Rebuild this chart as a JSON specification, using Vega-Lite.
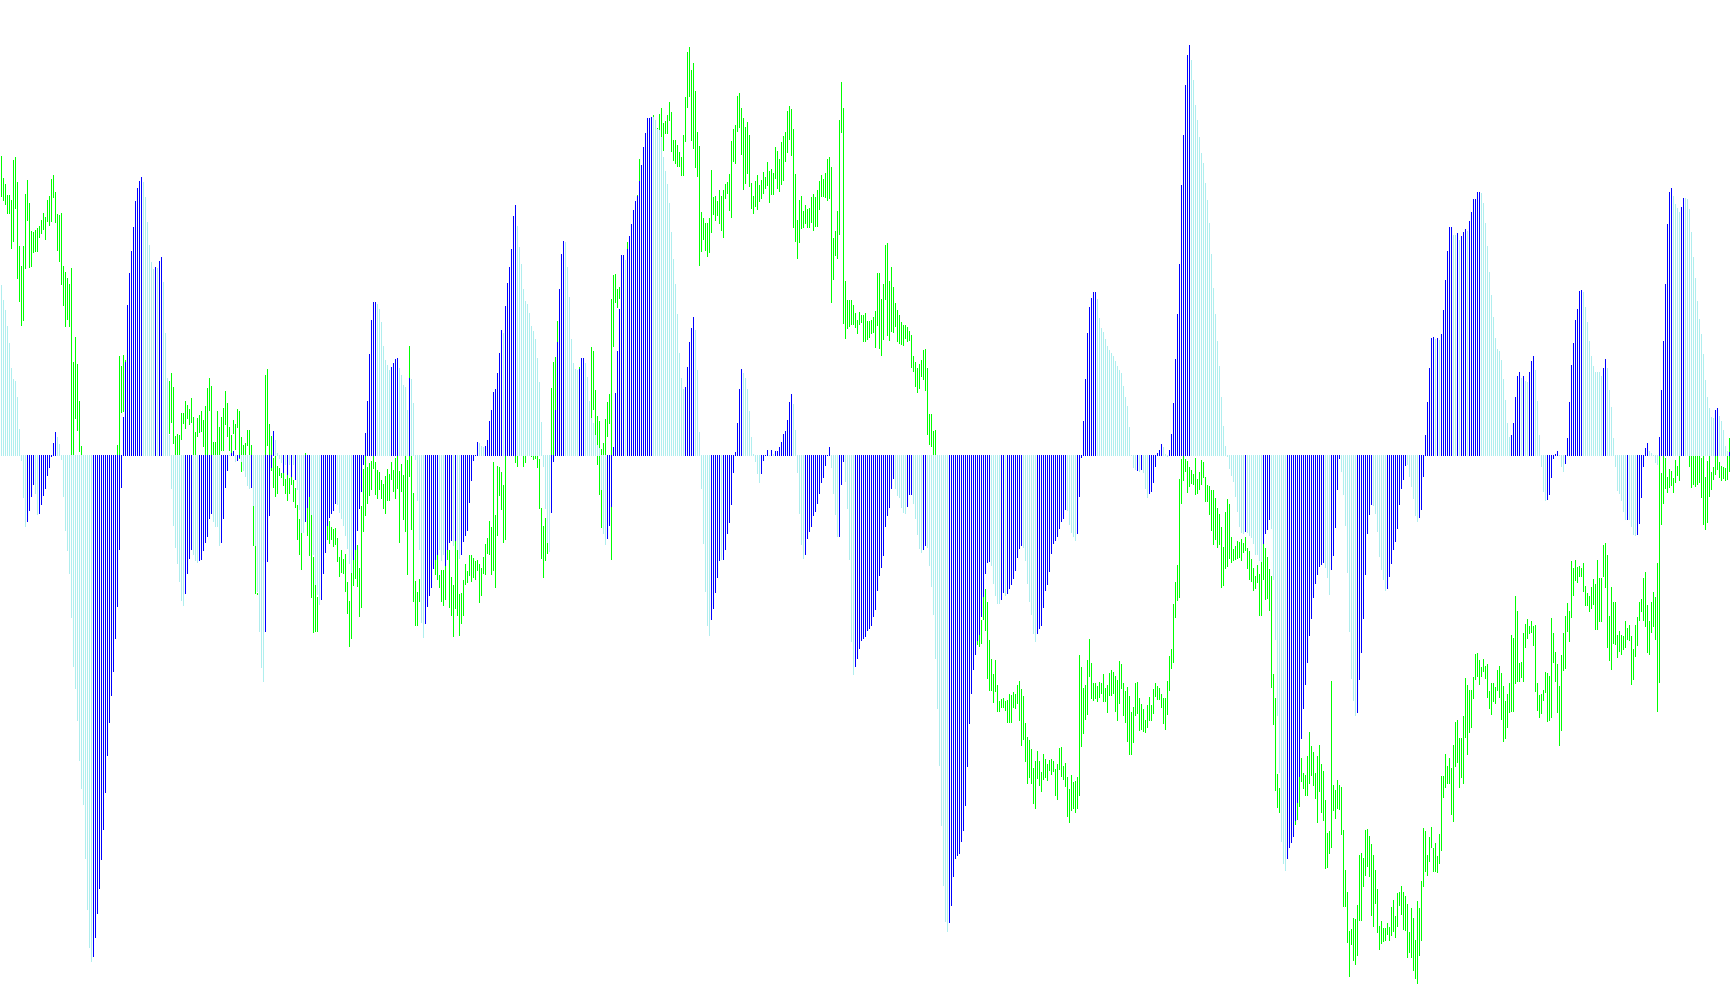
{"$schema":"https://vega.github.io/schema/vega-lite/v6.json","width":1730,"height":1005,"autosize":{"type":"fit","contains":"padding"},"padding":0,"background":"#ffffff","config":{"view":{"stroke":null}},
"datasets":{"hist":[
{"i":0,"h":170,"c":"p"},{"i":1,"h":155,"c":"p"},{"i":2,"h":145,"c":"p"},{"i":3,"h":129,"c":"p"},{"i":4,"h":112,"c":"p"},{"i":5,"h":87,"c":"p"},{"i":6,"h":76,"c":"p"},{"i":7,"h":74,"c":"p"},{"i":8,"h":58,"c":"p"},{"i":9,"h":26,"c":"p"},{"i":10,"h":-6,"c":"p"},{"i":11,"h":-43,"c":"p"},{"i":12,"h":-72,"c":"p"},{"i":13,"h":-67,"c":"b"},{"i":14,"h":-56,"c":"b"},{"i":15,"h":-42,"c":"b"},{"i":16,"h":-30,"c":"b"},{"i":17,"h":-39,"c":"p"},{"i":18,"h":-60,"c":"p"},{"i":19,"h":-59,"c":"b"},{"i":20,"h":-50,"c":"b"},{"i":21,"h":-41,"c":"b"},{"i":22,"h":-34,"c":"b"},{"i":23,"h":-21,"c":"b"},{"i":24,"h":-13,"c":"b"},{"i":25,"h":-2,"c":"b"},{"i":26,"h":12,"c":"b"},{"i":27,"h":23,"c":"b"},{"i":28,"h":18,"c":"p"},{"i":29,"h":11,"c":"p"},{"i":30,"h":-5,"c":"p"},{"i":31,"h":-42,"c":"p"},{"i":32,"h":-76,"c":"p"},{"i":33,"h":-96,"c":"p"},{"i":34,"h":-119,"c":"p"},{"i":35,"h":-163,"c":"p"},{"i":36,"h":-212,"c":"p"},{"i":37,"h":-234,"c":"p"},{"i":38,"h":-266,"c":"p"},{"i":39,"h":-306,"c":"p"},{"i":40,"h":-334,"c":"p"},{"i":41,"h":-350,"c":"p"},{"i":42,"h":-404,"c":"p"},{"i":43,"h":-455,"c":"p"},{"i":44,"h":-493,"c":"p"},{"i":45,"h":-507,"c":"p"},{"i":46,"h":-502,"c":"b"},{"i":47,"h":-483,"c":"b"},{"i":48,"h":-459,"c":"b"},{"i":49,"h":-434,"c":"b"},{"i":50,"h":-405,"c":"b"},{"i":51,"h":-375,"c":"b"},{"i":52,"h":-338,"c":"b"},{"i":53,"h":-301,"c":"b"},{"i":54,"h":-268,"c":"b"},{"i":55,"h":-241,"c":"b"},{"i":56,"h":-217,"c":"b"},{"i":57,"h":-184,"c":"b"},{"i":58,"h":-152,"c":"b"},{"i":59,"h":-95,"c":"b"},{"i":60,"h":-33,"c":"b"},{"i":61,"h":38,"c":"b"},{"i":62,"h":93,"c":"b"},{"i":63,"h":150,"c":"b"},{"i":64,"h":182,"c":"b"},{"i":65,"h":204,"c":"b"},{"i":66,"h":228,"c":"b"},{"i":67,"h":254,"c":"b"},{"i":68,"h":267,"c":"b"},{"i":69,"h":274,"c":"b"},{"i":70,"h":278,"c":"b"},{"i":71,"h":273,"c":"p"},{"i":72,"h":258,"c":"p"},{"i":73,"h":233,"c":"p"},{"i":74,"h":210,"c":"p"},{"i":75,"h":193,"c":"p"},{"i":76,"h":186,"c":"p"},{"i":77,"h":188,"c":"b"},{"i":78,"h":187,"c":"p"},{"i":79,"h":194,"c":"b"},{"i":80,"h":198,"c":"b"},{"i":81,"h":173,"c":"p"},{"i":82,"h":122,"c":"p"},{"i":83,"h":77,"c":"p"},{"i":84,"h":20,"c":"p"},{"i":85,"h":-34,"c":"p"},{"i":86,"h":-71,"c":"p"},{"i":87,"h":-93,"c":"p"},{"i":88,"h":-109,"c":"p"},{"i":89,"h":-127,"c":"p"},{"i":90,"h":-146,"c":"p"},{"i":91,"h":-151,"c":"p"},{"i":92,"h":-139,"c":"b"},{"i":93,"h":-119,"c":"b"},{"i":94,"h":-104,"c":"b"},{"i":95,"h":-95,"c":"b"},{"i":96,"h":-100,"c":"p"},{"i":97,"h":-106,"c":"p"},{"i":98,"h":-108,"c":"p"},{"i":99,"h":-106,"c":"b"},{"i":100,"h":-105,"c":"b"},{"i":101,"h":-96,"c":"b"},{"i":102,"h":-88,"c":"b"},{"i":103,"h":-82,"c":"b"},{"i":104,"h":-64,"c":"b"},{"i":105,"h":-59,"c":"b"},{"i":106,"h":-67,"c":"p"},{"i":107,"h":-72,"c":"p"},{"i":108,"h":-72,"c":"p"},{"i":109,"h":-91,"c":"p"},{"i":110,"h":-88,"c":"b"},{"i":111,"h":-64,"c":"b"},{"i":112,"h":-33,"c":"b"},{"i":113,"h":-16,"c":"b"},{"i":114,"h":-1,"c":"p"},{"i":115,"h":2,"c":"b"},{"i":116,"h":4,"c":"b"},{"i":117,"h":-7,"c":"p"},{"i":118,"h":-6,"c":"b"},{"i":119,"h":-3,"c":"b"},{"i":120,"h":-7,"c":"p"},{"i":121,"h":-16,"c":"p"},{"i":122,"h":-22,"c":"p"},{"i":123,"h":-31,"c":"p"},{"i":124,"h":-34,"c":"p"},{"i":125,"h":-33,"c":"b"},{"i":126,"h":-51,"c":"p"},{"i":127,"h":-91,"c":"p"},{"i":128,"h":-137,"c":"p"},{"i":129,"h":-177,"c":"p"},{"i":130,"h":-213,"c":"p"},{"i":131,"h":-227,"c":"p"},{"i":132,"h":-177,"c":"b"},{"i":133,"h":-107,"c":"b"},{"i":134,"h":-61,"c":"b"},{"i":135,"h":-13,"c":"b"},{"i":136,"h":24,"c":"b"},{"i":137,"h":15,"c":"p"},{"i":138,"h":2,"c":"p"},{"i":139,"h":-4,"c":"p"},{"i":140,"h":-8,"c":"p"},{"i":141,"h":-18,"c":"b"},{"i":142,"h":-10,"c":"p"},{"i":143,"h":-20,"c":"b"},{"i":144,"h":-10,"c":"p"},{"i":145,"h":-22,"c":"b"},{"i":146,"h":-10,"c":"p"},{"i":147,"h":-25,"c":"b"},{"i":148,"h":-35,"c":"p"},{"i":149,"h":-55,"c":"p"},
{"i":150,"h":-78,"c":"p"},{"i":151,"h":-78,"c":"p"},{"i":152,"h":-67,"c":"b"},{"i":153,"h":-53,"c":"b"},{"i":154,"h":-42,"c":"b"},{"i":155,"h":-60,"c":"p"},{"i":156,"h":-100,"c":"p"},{"i":157,"h":-130,"c":"p"},{"i":158,"h":-140,"c":"p"},{"i":159,"h":-150,"c":"p"},{"i":160,"h":-145,"c":"b"},{"i":161,"h":-119,"c":"b"},{"i":162,"h":-98,"c":"b"},{"i":163,"h":-71,"c":"b"},{"i":164,"h":-63,"c":"b"},{"i":165,"h":-59,"c":"b"},{"i":166,"h":-56,"c":"b"},{"i":167,"h":-49,"c":"b"},{"i":168,"h":-50,"c":"p"},{"i":169,"h":-58,"c":"p"},{"i":170,"h":-64,"c":"p"},{"i":171,"h":-71,"c":"p"},{"i":172,"h":-81,"c":"p"},{"i":173,"h":-94,"c":"p"},{"i":174,"h":-109,"c":"p"},{"i":175,"h":-118,"c":"p"},{"i":176,"h":-105,"c":"b"},{"i":177,"h":-95,"c":"b"},{"i":178,"h":-76,"c":"b"},{"i":179,"h":-54,"c":"b"},{"i":180,"h":-37,"c":"b"},{"i":181,"h":-10,"c":"b"},{"i":182,"h":22,"c":"b"},{"i":183,"h":54,"c":"b"},{"i":184,"h":101,"c":"b"},{"i":185,"h":135,"c":"b"},{"i":186,"h":153,"c":"b"},{"i":187,"h":153,"c":"b"},{"i":188,"h":151,"c":"p"},{"i":189,"h":146,"c":"p"},{"i":190,"h":133,"c":"p"},{"i":191,"h":109,"c":"p"},{"i":192,"h":95,"c":"p"},{"i":193,"h":90,"c":"p"},{"i":194,"h":85,"c":"p"},{"i":195,"h":88,"c":"b"},{"i":196,"h":92,"c":"b"},{"i":197,"h":96,"c":"b"},{"i":198,"h":97,"c":"b"},{"i":199,"h":87,"c":"p"},{"i":200,"h":80,"c":"p"},{"i":201,"h":70,"c":"p"},{"i":202,"h":68,"c":"p"},{"i":203,"h":45,"c":"p"},{"i":204,"h":77,"c":"b"},{"i":205,"h":76,"c":"p"},{"i":206,"h":52,"c":"p"},{"i":207,"h":-5,"c":"p"},{"i":208,"h":-46,"c":"p"},{"i":209,"h":-95,"c":"p"},{"i":210,"h":-168,"c":"p"},{"i":211,"h":-183,"c":"p"},{"i":212,"h":-169,"c":"b"},{"i":213,"h":-152,"c":"b"},{"i":214,"h":-141,"c":"b"},{"i":215,"h":-133,"c":"b"},{"i":216,"h":-114,"c":"b"},{"i":217,"h":-105,"c":"b"},{"i":218,"h":-100,"c":"b"},{"i":219,"h":-95,"c":"p"},{"i":220,"h":-106,"c":"p"},{"i":221,"h":-100,"c":"p"},{"i":222,"h":-111,"c":"b"},{"i":223,"h":-95,"c":"b"},{"i":224,"h":-88,"c":"b"},{"i":225,"h":-86,"c":"b"},{"i":226,"h":-91,"c":"p"},{"i":227,"h":-86,"c":"b"},{"i":228,"h":-95,"c":"p"},{"i":229,"h":-104,"c":"p"},{"i":230,"h":-100,"c":"b"},{"i":231,"h":-87,"c":"b"},{"i":232,"h":-81,"c":"b"},{"i":233,"h":-76,"c":"b"},{"i":234,"h":-48,"c":"b"},{"i":235,"h":-26,"c":"b"},{"i":236,"h":-6,"c":"b"},{"i":237,"h":-1,"c":"b"},{"i":238,"h":13,"c":"b"},{"i":239,"h":12,"c":"p"},{"i":240,"h":9,"c":"p"},{"i":241,"h":8,"c":"p"},{"i":242,"h":9,"c":"b"},{"i":243,"h":15,"c":"b"},{"i":244,"h":34,"c":"b"},{"i":245,"h":45,"c":"b"},{"i":246,"h":63,"c":"b"},{"i":247,"h":66,"c":"b"},{"i":248,"h":82,"c":"b"},{"i":249,"h":102,"c":"b"},{"i":250,"h":125,"c":"b"},{"i":251,"h":122,"c":"p"},{"i":252,"h":149,"c":"b"},{"i":253,"h":172,"c":"b"},{"i":254,"h":188,"c":"b"},{"i":255,"h":206,"c":"b"},{"i":256,"h":239,"c":"b"},{"i":257,"h":250,"c":"b"},{"i":258,"h":229,"c":"p"},{"i":259,"h":208,"c":"p"},{"i":260,"h":191,"c":"p"},{"i":261,"h":166,"c":"p"},{"i":262,"h":154,"c":"p"},{"i":263,"h":151,"c":"p"},{"i":264,"h":142,"c":"p"},{"i":265,"h":129,"c":"p"},{"i":266,"h":124,"c":"p"},{"i":267,"h":116,"c":"p"},{"i":268,"h":97,"c":"p"},{"i":269,"h":73,"c":"p"},{"i":270,"h":33,"c":"p"},{"i":271,"h":-12,"c":"p"},{"i":272,"h":-54,"c":"p"},{"i":273,"h":-88,"c":"p"},{"i":274,"h":-97,"c":"p"},{"i":275,"h":-58,"c":"b"},{"i":276,"h":-7,"c":"b"},{"i":277,"h":45,"c":"b"},{"i":278,"h":113,"c":"b"},{"i":279,"h":166,"c":"b"},{"i":280,"h":201,"c":"b"},{"i":281,"h":214,"c":"b"},{"i":282,"h":213,"c":"p"},{"i":283,"h":188,"c":"p"},{"i":284,"h":158,"c":"p"},{"i":285,"h":116,"c":"p"},{"i":286,"h":92,"c":"p"},{"i":287,"h":86,"c":"p"},{"i":288,"h":85,"c":"p"},{"i":289,"h":86,"c":"b"},{"i":290,"h":97,"c":"b"},{"i":291,"h":97,"c":"b"},{"i":292,"h":92,"c":"p"},{"i":293,"h":78,"c":"p"},{"i":294,"h":54,"c":"p"},{"i":295,"h":37,"c":"p"},{"i":296,"h":32,"c":"p"},{"i":297,"h":20,"c":"p"},{"i":298,"h":10,"c":"p"},{"i":299,"h":7,"c":"p"},
{"i":300,"h":-35,"c":"p"},{"i":301,"h":-79,"c":"p"},{"i":302,"h":-90,"c":"p"},{"i":303,"h":-84,"c":"b"},{"i":304,"h":-71,"c":"b"},{"i":305,"h":-52,"c":"b"},{"i":306,"h":8,"c":"b"},{"i":307,"h":62,"c":"b"},{"i":308,"h":104,"c":"b"},{"i":309,"h":146,"c":"b"},{"i":310,"h":200,"c":"b"},{"i":311,"h":200,"c":"b"},{"i":312,"h":195,"c":"p"},{"i":313,"h":206,"c":"b"},{"i":314,"h":219,"c":"b"},{"i":315,"h":231,"c":"b"},{"i":316,"h":245,"c":"b"},{"i":317,"h":254,"c":"b"},{"i":318,"h":259,"c":"b"},{"i":319,"h":274,"c":"b"},{"i":320,"h":290,"c":"b"},{"i":321,"h":308,"c":"b"},{"i":322,"h":322,"c":"b"},{"i":323,"h":337,"c":"b"},{"i":324,"h":337,"c":"b"},{"i":325,"h":338,"c":"b"},{"i":326,"h":338,"c":"p"},{"i":327,"h":335,"c":"p"},{"i":328,"h":326,"c":"p"},{"i":329,"h":325,"c":"p"},{"i":330,"h":318,"c":"p"},{"i":331,"h":298,"c":"p"},{"i":332,"h":284,"c":"p"},{"i":333,"h":271,"c":"p"},{"i":334,"h":252,"c":"p"},{"i":335,"h":223,"c":"p"},{"i":336,"h":196,"c":"p"},{"i":337,"h":171,"c":"p"},{"i":338,"h":141,"c":"p"},{"i":339,"h":102,"c":"p"},{"i":340,"h":77,"c":"p"},{"i":341,"h":66,"c":"p"},{"i":342,"h":68,"c":"b"},{"i":343,"h":88,"c":"b"},{"i":344,"h":113,"c":"b"},{"i":345,"h":127,"c":"b"},{"i":346,"h":138,"c":"b"},{"i":347,"h":125,"c":"p"},{"i":348,"h":85,"c":"p"},{"i":349,"h":23,"c":"p"},{"i":350,"h":-34,"c":"p"},{"i":351,"h":-89,"c":"p"},{"i":352,"h":-137,"c":"p"},{"i":353,"h":-171,"c":"p"},{"i":354,"h":-181,"c":"p"},{"i":355,"h":-165,"c":"b"},{"i":356,"h":-154,"c":"b"},{"i":357,"h":-138,"c":"b"},{"i":358,"h":-123,"c":"b"},{"i":359,"h":-106,"c":"b"},{"i":360,"h":-105,"c":"p"},{"i":361,"h":-105,"c":"b"},{"i":362,"h":-95,"c":"b"},{"i":363,"h":-79,"c":"b"},{"i":364,"h":-68,"c":"b"},{"i":365,"h":-50,"c":"b"},{"i":366,"h":-18,"c":"b"},{"i":367,"h":3,"c":"b"},{"i":368,"h":32,"c":"b"},{"i":369,"h":66,"c":"b"},{"i":370,"h":86,"c":"b"},{"i":371,"h":82,"c":"p"},{"i":372,"h":77,"c":"p"},{"i":373,"h":66,"c":"p"},{"i":374,"h":44,"c":"p"},{"i":375,"h":18,"c":"p"},{"i":376,"h":1,"c":"p"},{"i":377,"h":-7,"c":"p"},{"i":378,"h":-19,"c":"p"},{"i":379,"h":-28,"c":"p"},{"i":380,"h":-19,"c":"b"},{"i":381,"h":-6,"c":"b"},{"i":382,"h":-1,"c":"b"},{"i":383,"h":5,"c":"b"},{"i":384,"h":-1,"c":"p"},{"i":385,"h":5,"c":"b"},{"i":386,"h":1,"c":"p"},{"i":387,"h":4,"c":"b"},{"i":388,"h":4,"c":"b"},{"i":389,"h":8,"c":"b"},{"i":390,"h":13,"c":"b"},{"i":391,"h":21,"c":"b"},{"i":392,"h":24,"c":"b"},{"i":393,"h":35,"c":"b"},{"i":394,"h":53,"c":"b"},{"i":395,"h":61,"c":"b"},{"i":396,"h":51,"c":"p"},{"i":397,"h":25,"c":"p"},{"i":398,"h":-18,"c":"p"},{"i":399,"h":-59,"c":"p"},{"i":400,"h":-90,"c":"p"},{"i":401,"h":-104,"c":"p"},{"i":402,"h":-100,"c":"b"},{"i":403,"h":-84,"c":"b"},{"i":404,"h":-77,"c":"b"},{"i":405,"h":-72,"c":"b"},{"i":406,"h":-61,"c":"b"},{"i":407,"h":-57,"c":"b"},{"i":408,"h":-49,"c":"b"},{"i":409,"h":-39,"c":"b"},{"i":410,"h":-28,"c":"b"},{"i":411,"h":-23,"c":"b"},{"i":412,"h":-11,"c":"b"},{"i":413,"h":-1,"c":"b"},{"i":414,"h":8,"c":"b"},{"i":415,"h":-13,"c":"p"},{"i":416,"h":-39,"c":"p"},{"i":417,"h":-60,"c":"p"},{"i":418,"h":-82,"c":"p"},{"i":419,"h":-82,"c":"b"},{"i":420,"h":-30,"c":"b"},{"i":421,"h":-7,"c":"b"},{"i":422,"h":-27,"c":"p"},{"i":423,"h":-54,"c":"p"},{"i":424,"h":-105,"c":"p"},{"i":425,"h":-187,"c":"p"},{"i":426,"h":-220,"c":"p"},{"i":427,"h":-212,"c":"b"},{"i":428,"h":-204,"c":"b"},{"i":429,"h":-194,"c":"b"},{"i":430,"h":-186,"c":"b"},{"i":431,"h":-184,"c":"b"},{"i":432,"h":-182,"c":"b"},{"i":433,"h":-176,"c":"b"},{"i":434,"h":-174,"c":"b"},{"i":435,"h":-171,"c":"b"},{"i":436,"h":-162,"c":"b"},{"i":437,"h":-155,"c":"b"},{"i":438,"h":-136,"c":"b"},{"i":439,"h":-121,"c":"b"},{"i":440,"h":-113,"c":"b"},{"i":441,"h":-101,"c":"b"},{"i":442,"h":-72,"c":"b"},{"i":443,"h":-61,"c":"b"},{"i":444,"h":-53,"c":"b"},{"i":445,"h":-34,"c":"b"},{"i":446,"h":-24,"c":"b"},{"i":447,"h":-34,"c":"p"},{"i":448,"h":-41,"c":"p"},{"i":449,"h":-43,"c":"p"},
{"i":450,"h":-53,"c":"p"},{"i":451,"h":-58,"c":"p"},{"i":452,"h":-59,"c":"p"},{"i":453,"h":-52,"c":"b"},{"i":454,"h":-40,"c":"b"},{"i":455,"h":-40,"c":"b"},{"i":456,"h":-49,"c":"p"},{"i":457,"h":-64,"c":"p"},{"i":458,"h":-80,"c":"p"},{"i":459,"h":-94,"c":"p"},{"i":460,"h":-98,"c":"p"},{"i":461,"h":-95,"c":"b"},{"i":462,"h":-91,"c":"b"},{"i":463,"h":-93,"c":"p"},{"i":464,"h":-111,"c":"p"},{"i":465,"h":-132,"c":"p"},{"i":466,"h":-160,"c":"p"},{"i":467,"h":-204,"c":"p"},{"i":468,"h":-254,"c":"p"},{"i":469,"h":-311,"c":"p"},{"i":470,"h":-371,"c":"p"},{"i":471,"h":-431,"c":"p"},{"i":472,"h":-467,"c":"p"},{"i":473,"h":-477,"c":"p"},{"i":474,"h":-468,"c":"b"},{"i":475,"h":-451,"c":"b"},{"i":476,"h":-422,"c":"b"},{"i":477,"h":-404,"c":"b"},{"i":478,"h":-401,"c":"b"},{"i":479,"h":-399,"c":"b"},{"i":480,"h":-387,"c":"b"},{"i":481,"h":-376,"c":"b"},{"i":482,"h":-351,"c":"b"},{"i":483,"h":-312,"c":"b"},{"i":484,"h":-269,"c":"b"},{"i":485,"h":-239,"c":"b"},{"i":486,"h":-215,"c":"b"},{"i":487,"h":-200,"c":"b"},{"i":488,"h":-186,"c":"b"},{"i":489,"h":-180,"c":"b"},{"i":490,"h":-162,"c":"b"},{"i":491,"h":-142,"c":"b"},{"i":492,"h":-119,"c":"b"},{"i":493,"h":-108,"c":"b"},{"i":494,"h":-107,"c":"b"},{"i":495,"h":-111,"c":"p"},{"i":496,"h":-129,"c":"p"},{"i":497,"h":-141,"c":"p"},{"i":498,"h":-149,"c":"p"},{"i":499,"h":-149,"c":"p"},{"i":500,"h":-145,"c":"b"},{"i":501,"h":-138,"c":"b"},{"i":502,"h":-141,"c":"p"},{"i":503,"h":-139,"c":"b"},{"i":504,"h":-134,"c":"b"},{"i":505,"h":-130,"c":"b"},{"i":506,"h":-124,"c":"b"},{"i":507,"h":-116,"c":"b"},{"i":508,"h":-103,"c":"b"},{"i":509,"h":-94,"c":"b"},{"i":510,"h":-91,"c":"b"},{"i":511,"h":-93,"c":"p"},{"i":512,"h":-106,"c":"p"},{"i":513,"h":-129,"c":"p"},{"i":514,"h":-147,"c":"p"},{"i":515,"h":-160,"c":"p"},{"i":516,"h":-179,"c":"p"},{"i":517,"h":-187,"c":"p"},{"i":518,"h":-179,"c":"b"},{"i":519,"h":-174,"c":"b"},{"i":520,"h":-171,"c":"b"},{"i":521,"h":-153,"c":"b"},{"i":522,"h":-136,"c":"b"},{"i":523,"h":-130,"c":"b"},{"i":524,"h":-117,"c":"b"},{"i":525,"h":-99,"c":"b"},{"i":526,"h":-89,"c":"b"},{"i":527,"h":-86,"c":"b"},{"i":528,"h":-82,"c":"b"},{"i":529,"h":-74,"c":"b"},{"i":530,"h":-67,"c":"b"},{"i":531,"h":-64,"c":"b"},{"i":532,"h":-55,"c":"b"},{"i":533,"h":-56,"c":"p"},{"i":534,"h":-70,"c":"p"},{"i":535,"h":-78,"c":"p"},{"i":536,"h":-82,"c":"p"},{"i":537,"h":-86,"c":"p"},{"i":538,"h":-79,"c":"b"},{"i":539,"h":-42,"c":"b"},{"i":540,"h":-3,"c":"b"},{"i":541,"h":34,"c":"b"},{"i":542,"h":76,"c":"b"},{"i":543,"h":122,"c":"b"},{"i":544,"h":148,"c":"b"},{"i":545,"h":157,"c":"b"},{"i":546,"h":163,"c":"b"},{"i":547,"h":163,"c":"b"},{"i":548,"h":156,"c":"p"},{"i":549,"h":137,"c":"p"},{"i":550,"h":127,"c":"p"},{"i":551,"h":123,"c":"p"},{"i":552,"h":116,"c":"p"},{"i":553,"h":109,"c":"p"},{"i":554,"h":105,"c":"p"},{"i":555,"h":102,"c":"p"},{"i":556,"h":99,"c":"p"},{"i":557,"h":94,"c":"p"},{"i":558,"h":89,"c":"p"},{"i":559,"h":85,"c":"p"},{"i":560,"h":82,"c":"p"},{"i":561,"h":69,"c":"p"},{"i":562,"h":58,"c":"p"},{"i":563,"h":49,"c":"p"},{"i":564,"h":28,"c":"p"},{"i":565,"h":0,"c":"p"},{"i":566,"h":-13,"c":"p"},{"i":567,"h":-15,"c":"p"},{"i":568,"h":-16,"c":"b"},{"i":569,"h":-17,"c":"p"},{"i":570,"h":-15,"c":"b"},{"i":571,"h":-18,"c":"p"},{"i":572,"h":-34,"c":"p"},{"i":573,"h":-43,"c":"p"},{"i":574,"h":-39,"c":"b"},{"i":575,"h":-37,"c":"b"},{"i":576,"h":-28,"c":"b"},{"i":577,"h":-12,"c":"b"},{"i":578,"h":2,"c":"b"},{"i":579,"h":5,"c":"b"},{"i":580,"h":11,"c":"b"},{"i":581,"h":8,"c":"p"},{"i":582,"h":1,"c":"p"},{"i":583,"h":-2,"c":"p"},{"i":584,"h":5,"c":"b"},{"i":585,"h":21,"c":"b"},{"i":586,"h":52,"c":"b"},{"i":587,"h":96,"c":"b"},{"i":588,"h":141,"c":"b"},{"i":589,"h":191,"c":"b"},{"i":590,"h":270,"c":"b"},{"i":591,"h":320,"c":"b"},{"i":592,"h":370,"c":"b"},{"i":593,"h":400,"c":"b"},{"i":594,"h":410,"c":"b"},{"i":595,"h":395,"c":"p"},{"i":596,"h":375,"c":"p"},{"i":597,"h":350,"c":"p"},{"i":598,"h":335,"c":"p"},{"i":599,"h":318,"c":"p"},
{"i":600,"h":302,"c":"p"},{"i":601,"h":292,"c":"p"},{"i":602,"h":272,"c":"p"},{"i":603,"h":255,"c":"p"},{"i":604,"h":232,"c":"p"},{"i":605,"h":201,"c":"p"},{"i":606,"h":167,"c":"p"},{"i":607,"h":141,"c":"p"},{"i":608,"h":114,"c":"p"},{"i":609,"h":89,"c":"p"},{"i":610,"h":58,"c":"p"},{"i":611,"h":29,"c":"p"},{"i":612,"h":9,"c":"p"},{"i":613,"h":-2,"c":"p"},{"i":614,"h":-14,"c":"p"},{"i":615,"h":-21,"c":"p"},{"i":616,"h":-27,"c":"p"},{"i":617,"h":-42,"c":"p"},{"i":618,"h":-57,"c":"p"},{"i":619,"h":-72,"c":"p"},{"i":620,"h":-78,"c":"p"},{"i":621,"h":-79,"c":"p"},{"i":622,"h":-77,"c":"b"},{"i":623,"h":-78,"c":"p"},{"i":624,"h":-81,"c":"p"},{"i":625,"h":-83,"c":"p"},{"i":626,"h":-89,"c":"p"},{"i":627,"h":-100,"c":"p"},{"i":628,"h":-100,"c":"p"},{"i":629,"h":-106,"c":"p"},{"i":630,"h":-107,"c":"p"},{"i":631,"h":-89,"c":"b"},{"i":632,"h":-79,"c":"b"},{"i":633,"h":-75,"c":"b"},{"i":634,"h":-65,"c":"b"},{"i":635,"h":-74,"c":"p"},{"i":636,"h":-125,"c":"p"},{"i":637,"h":-185,"c":"p"},{"i":638,"h":-261,"c":"p"},{"i":639,"h":-318,"c":"p"},{"i":640,"h":-387,"c":"p"},{"i":641,"h":-409,"c":"p"},{"i":642,"h":-416,"c":"p"},{"i":643,"h":-404,"c":"b"},{"i":644,"h":-393,"c":"b"},{"i":645,"h":-388,"c":"b"},{"i":646,"h":-382,"c":"b"},{"i":647,"h":-366,"c":"b"},{"i":648,"h":-348,"c":"b"},{"i":649,"h":-322,"c":"b"},{"i":650,"h":-284,"c":"b"},{"i":651,"h":-254,"c":"b"},{"i":652,"h":-230,"c":"b"},{"i":653,"h":-208,"c":"b"},{"i":654,"h":-181,"c":"b"},{"i":655,"h":-164,"c":"b"},{"i":656,"h":-143,"c":"b"},{"i":657,"h":-129,"c":"b"},{"i":658,"h":-120,"c":"b"},{"i":659,"h":-112,"c":"b"},{"i":660,"h":-110,"c":"b"},{"i":661,"h":-108,"c":"b"},{"i":662,"h":-113,"c":"p"},{"i":663,"h":-123,"c":"p"},{"i":664,"h":-140,"c":"p"},{"i":665,"h":-115,"c":"b"},{"i":666,"h":-101,"c":"b"},{"i":667,"h":-73,"c":"b"},{"i":668,"h":-35,"c":"b"},{"i":669,"h":-4,"c":"b"},{"i":670,"h":-17,"c":"p"},{"i":671,"h":-40,"c":"p"},{"i":672,"h":-71,"c":"p"},{"i":673,"h":-118,"c":"p"},{"i":674,"h":-177,"c":"p"},{"i":675,"h":-224,"c":"p"},{"i":676,"h":-246,"c":"p"},{"i":677,"h":-261,"c":"p"},{"i":678,"h":-258,"c":"b"},{"i":679,"h":-225,"c":"b"},{"i":680,"h":-198,"c":"b"},{"i":681,"h":-164,"c":"b"},{"i":682,"h":-120,"c":"b"},{"i":683,"h":-79,"c":"b"},{"i":684,"h":-60,"c":"b"},{"i":685,"h":-50,"c":"b"},{"i":686,"h":-51,"c":"p"},{"i":687,"h":-59,"c":"p"},{"i":688,"h":-77,"c":"p"},{"i":689,"h":-102,"c":"p"},{"i":690,"h":-115,"c":"p"},{"i":691,"h":-125,"c":"p"},{"i":692,"h":-136,"c":"p"},{"i":693,"h":-134,"c":"b"},{"i":694,"h":-122,"c":"b"},{"i":695,"h":-109,"c":"b"},{"i":696,"h":-95,"c":"b"},{"i":697,"h":-87,"c":"b"},{"i":698,"h":-74,"c":"b"},{"i":699,"h":-50,"c":"b"},{"i":700,"h":-34,"c":"b"},{"i":701,"h":-25,"c":"b"},{"i":702,"h":-11,"c":"b"},{"i":703,"h":-10,"c":"p"},{"i":704,"h":-22,"c":"p"},{"i":705,"h":-32,"c":"p"},{"i":706,"h":-44,"c":"p"},{"i":707,"h":-61,"c":"p"},{"i":708,"h":-67,"c":"p"},{"i":709,"h":-63,"c":"b"},{"i":710,"h":-55,"c":"b"},{"i":711,"h":-22,"c":"b"},{"i":712,"h":20,"c":"b"},{"i":713,"h":53,"c":"b"},{"i":714,"h":87,"c":"b"},{"i":715,"h":117,"c":"b"},{"i":716,"h":118,"c":"b"},{"i":717,"h":116,"c":"p"},{"i":718,"h":117,"c":"b"},{"i":719,"h":115,"c":"p"},{"i":720,"h":121,"c":"b"},{"i":721,"h":145,"c":"b"},{"i":722,"h":175,"c":"b"},{"i":723,"h":204,"c":"b"},{"i":724,"h":228,"c":"b"},{"i":725,"h":228,"c":"b"},{"i":726,"h":220,"c":"p"},{"i":727,"h":220,"c":"p"},{"i":728,"h":222,"c":"b"},{"i":729,"h":215,"c":"p"},{"i":730,"h":219,"c":"b"},{"i":731,"h":223,"c":"b"},{"i":732,"h":226,"c":"b"},{"i":733,"h":224,"c":"p"},{"i":734,"h":234,"c":"b"},{"i":735,"h":243,"c":"b"},{"i":736,"h":256,"c":"b"},{"i":737,"h":256,"c":"b"},{"i":738,"h":263,"c":"b"},{"i":739,"h":263,"c":"b"},{"i":740,"h":262,"c":"p"},{"i":741,"h":252,"c":"p"},{"i":742,"h":232,"c":"p"},{"i":743,"h":209,"c":"p"},{"i":744,"h":183,"c":"p"},{"i":745,"h":160,"c":"p"},{"i":746,"h":138,"c":"p"},{"i":747,"h":117,"c":"p"},{"i":748,"h":106,"c":"p"},{"i":749,"h":104,"c":"p"},
{"i":750,"h":95,"c":"p"},{"i":751,"h":76,"c":"p"},{"i":752,"h":55,"c":"p"},{"i":753,"h":32,"c":"p"},{"i":754,"h":18,"c":"p"},{"i":755,"h":20,"c":"b"},{"i":756,"h":32,"c":"b"},{"i":757,"h":58,"c":"b"},{"i":758,"h":79,"c":"b"},{"i":759,"h":83,"c":"b"},{"i":760,"h":77,"c":"p"},{"i":761,"h":79,"c":"b"},{"i":762,"h":74,"c":"p"},{"i":763,"h":73,"c":"p"},{"i":764,"h":83,"c":"b"},{"i":765,"h":94,"c":"b"},{"i":766,"h":99,"c":"b"},{"i":767,"h":85,"c":"p"},{"i":768,"h":54,"c":"p"},{"i":769,"h":20,"c":"p"},{"i":770,"h":-12,"c":"p"},{"i":771,"h":-37,"c":"p"},{"i":772,"h":-46,"c":"p"},{"i":773,"h":-45,"c":"b"},{"i":774,"h":-40,"c":"b"},{"i":775,"h":-23,"c":"b"},{"i":776,"h":-4,"c":"b"},{"i":777,"h":1,"c":"b"},{"i":778,"h":4,"c":"b"},{"i":779,"h":0,"c":"p"},{"i":780,"h":-12,"c":"p"},{"i":781,"h":-17,"c":"p"},{"i":782,"h":-9,"c":"b"},{"i":783,"h":17,"c":"b"},{"i":784,"h":53,"c":"b"},{"i":785,"h":90,"c":"b"},{"i":786,"h":112,"c":"b"},{"i":787,"h":135,"c":"b"},{"i":788,"h":146,"c":"b"},{"i":789,"h":164,"c":"b"},{"i":790,"h":165,"c":"b"},{"i":791,"h":163,"c":"p"},{"i":792,"h":148,"c":"p"},{"i":793,"h":133,"c":"p"},{"i":794,"h":114,"c":"p"},{"i":795,"h":99,"c":"p"},{"i":796,"h":89,"c":"p"},{"i":797,"h":83,"c":"p"},{"i":798,"h":83,"c":"p"},{"i":799,"h":83,"c":"p"},{"i":800,"h":79,"c":"p"},{"i":801,"h":87,"c":"b"},{"i":802,"h":96,"c":"b"},{"i":803,"h":87,"c":"p"},{"i":804,"h":65,"c":"p"},{"i":805,"h":48,"c":"p"},{"i":806,"h":17,"c":"p"},{"i":807,"h":-12,"c":"p"},{"i":808,"h":-36,"c":"p"},{"i":809,"h":-39,"c":"p"},{"i":810,"h":-46,"c":"p"},{"i":811,"h":-57,"c":"p"},{"i":812,"h":-65,"c":"p"},{"i":813,"h":-65,"c":"b"},{"i":814,"h":-65,"c":"p"},{"i":815,"h":-72,"c":"p"},{"i":816,"h":-80,"c":"p"},{"i":817,"h":-81,"c":"p"},{"i":818,"h":-80,"c":"b"},{"i":819,"h":-69,"c":"b"},{"i":820,"h":-43,"c":"b"},{"i":821,"h":-12,"c":"b"},{"i":822,"h":7,"c":"b"},{"i":823,"h":12,"c":"b"},{"i":824,"h":4,"c":"p"},{"i":825,"h":2,"c":"p"},{"i":826,"h":0,"c":"p"},{"i":827,"h":-8,"c":"p"},{"i":828,"h":-10,"c":"p"},{"i":829,"h":18,"c":"b"},{"i":830,"h":65,"c":"b"},{"i":831,"h":114,"c":"b"},{"i":832,"h":171,"c":"b"},{"i":833,"h":231,"c":"b"},{"i":834,"h":263,"c":"b"},{"i":835,"h":267,"c":"b"},{"i":836,"h":259,"c":"p"},{"i":837,"h":251,"c":"p"},{"i":838,"h":247,"c":"p"},{"i":839,"h":243,"c":"p"},{"i":840,"h":248,"c":"b"},{"i":841,"h":257,"c":"b"},{"i":842,"h":257,"c":"p"},{"i":843,"h":256,"c":"p"},{"i":844,"h":246,"c":"p"},{"i":845,"h":223,"c":"p"},{"i":846,"h":198,"c":"p"},{"i":847,"h":177,"c":"p"},{"i":848,"h":154,"c":"p"},{"i":849,"h":136,"c":"p"},{"i":850,"h":121,"c":"p"},{"i":851,"h":101,"c":"p"},{"i":852,"h":75,"c":"p"},{"i":853,"h":58,"c":"p"},{"i":854,"h":47,"c":"p"},{"i":855,"h":38,"c":"p"},{"i":856,"h":37,"c":"p"},{"i":857,"h":45,"c":"b"},{"i":858,"h":47,"c":"b"},{"i":859,"h":39,"c":"p"},{"i":860,"h":34,"c":"p"},{"i":861,"h":25,"c":"p"},{"i":862,"h":9,"c":"p"},{"i":863,"h":4,"c":"p"},{"i":864,"h":3,"c":"b"}
],"price":[
{"i":0,"a":844,"b":803},{"i":1,"a":822,"b":799},{"i":2,"a":816,"b":795},{"i":3,"a":805,"b":786},{"i":4,"a":805,"b":786},{"i":5,"a":800,"b":751},{"i":6,"a":840,"b":758},{"i":7,"a":843,"b":791},{"i":8,"a":818,"b":721},{"i":9,"a":754,"b":698},{"i":10,"a":734,"b":674},{"i":11,"a":754,"b":679},{"i":12,"a":806,"b":731},{"i":13,"a":820,"b":779},{"i":14,"a":797,"b":732},{"i":15,"a":769,"b":733},{"i":16,"a":768,"b":747},{"i":17,"a":770,"b":748},{"i":18,"a":772,"b":748},{"i":19,"a":774,"b":762},{"i":20,"a":780,"b":766},{"i":21,"a":787,"b":770},{"i":22,"a":783,"b":760},{"i":23,"a":800,"b":778},{"i":24,"a":804,"b":774},{"i":25,"a":821,"b":778},{"i":26,"a":825,"b":802},{"i":27,"a":808,"b":777},{"i":28,"a":786,"b":749},{"i":29,"a":785,"b":738},{"i":30,"a":787,"b":715},{"i":31,"a":734,"b":694},{"i":32,"a":728,"b":673},{"i":33,"a":722,"b":680},{"i":34,"a":716,"b":673},{"i":35,"a":732,"b":543},{"i":36,"a":638,"b":545},{"i":37,"a":663,"b":581},{"i":38,"a":636,"b":569},{"i":39,"a":599,"b":548},{"i":40,"a":554,"b":541},{"i":58,"a":555,"b":545},{"i":59,"a":644,"b":545},{"i":60,"a":634,"b":587},{"i":61,"a":645,"b":588},{"i":62,"a":640,"b":600},{"i":84,"a":619,"b":566},{"i":85,"a":627,"b":577},{"i":86,"a":613,"b":556},{"i":87,"a":564,"b":545},{"i":88,"a":566,"b":545},{"i":89,"a":565,"b":545},{"i":90,"a":587,"b":560},{"i":91,"a":587,"b":576},{"i":92,"a":599,"b":571},{"i":93,"a":595,"b":581},{"i":94,"a":591,"b":575},{"i":95,"a":602,"b":577},{"i":96,"a":583,"b":545},{"i":97,"a":568,"b":545},{"i":98,"a":582,"b":563},{"i":99,"a":585,"b":567},{"i":100,"a":589,"b":568},{"i":101,"a":580,"b":553},{"i":102,"a":594,"b":545},{"i":103,"a":612,"b":545},{"i":104,"a":622,"b":589},{"i":105,"a":614,"b":545},{"i":106,"a":558,"b":545},{"i":107,"a":558,"b":545},{"i":108,"a":589,"b":545},{"i":109,"a":573,"b":545},{"i":110,"a":583,"b":549},{"i":111,"a":592,"b":549},{"i":112,"a":609,"b":575},{"i":113,"a":597,"b":563},{"i":114,"a":573,"b":549},{"i":115,"a":565,"b":547},{"i":116,"a":580,"b":566},{"i":117,"a":576,"b":550},{"i":118,"a":591,"b":572},{"i":119,"a":589,"b":541},{"i":120,"a":563,"b":528},{"i":121,"a":555,"b":545},{"i":122,"a":557,"b":545},{"i":123,"a":570,"b":554},{"i":124,"a":570,"b":545},{"i":125,"a":555,"b":545},{"i":126,"a":495,"b":454},{"i":127,"a":455,"b":406},{"i":128,"a":407,"b":405},{"i":132,"a":625,"b":545},{"i":133,"a":631,"b":554},{"i":134,"a":576,"b":545},{"i":135,"a":564,"b":529},{"i":136,"a":542,"b":512},{"i":137,"a":544,"b":503},{"i":138,"a":534,"b":506},{"i":139,"a":532,"b":524},{"i":140,"a":527,"b":522},{"i":141,"a":527,"b":514},{"i":142,"a":521,"b":506},{"i":143,"a":525,"b":499},{"i":144,"a":522,"b":506},{"i":145,"a":524,"b":515},{"i":146,"a":520,"b":498},{"i":147,"a":512,"b":492},{"i":148,"a":495,"b":460},{"i":149,"a":481,"b":445},
{"i":150,"a":469,"b":430},{"i":152,"a":547,"b":545},{"i":153,"a":545,"b":464},{"i":154,"a":503,"b":444},{"i":155,"a":492,"b":402},{"i":156,"a":443,"b":367},{"i":157,"a":436,"b":368},{"i":158,"a":403,"b":368},{"i":163,"a":474,"b":460},{"i":164,"a":479,"b":456},{"i":165,"a":473,"b":460},{"i":166,"a":471,"b":453},{"i":167,"a":472,"b":455},{"i":168,"a":462,"b":438},{"i":169,"a":443,"b":423},{"i":170,"a":450,"b":427},{"i":171,"a":441,"b":426},{"i":172,"a":446,"b":408},{"i":173,"a":418,"b":386},{"i":174,"a":399,"b":353},{"i":175,"a":433,"b":361},{"i":176,"a":450,"b":414},{"i":177,"a":450,"b":421},{"i":178,"a":455,"b":413},{"i":179,"a":432,"b":383},{"i":180,"a":494,"b":392},{"i":181,"a":531,"b":468},{"i":182,"a":544,"b":484},{"i":183,"a":533,"b":496},{"i":184,"a":537,"b":504},{"i":185,"a":539,"b":510},{"i":186,"a":544,"b":531},{"i":187,"a":538,"b":505},{"i":188,"a":530,"b":501},{"i":189,"a":528,"b":510},{"i":190,"a":520,"b":501},{"i":191,"a":516,"b":491},{"i":192,"a":524,"b":486},{"i":193,"a":531,"b":499},{"i":194,"a":526,"b":499},{"i":195,"a":538,"b":520},{"i":196,"a":530,"b":508},{"i":197,"a":542,"b":501},{"i":198,"a":544,"b":511},{"i":199,"a":529,"b":457},{"i":200,"a":536,"b":508},{"i":201,"a":525,"b":480},{"i":202,"a":544,"b":468},{"i":203,"a":540,"b":425},{"i":204,"a":654,"b":523},{"i":205,"a":544,"b":470},{"i":206,"a":507,"b":398},{"i":207,"a":419,"b":374},{"i":208,"a":408,"b":374},{"i":209,"a":421,"b":398},{"i":217,"a":445,"b":425},{"i":218,"a":445,"b":420},{"i":219,"a":425,"b":412},{"i":220,"a":430,"b":398},{"i":221,"a":430,"b":394},{"i":222,"a":450,"b":400},{"i":223,"a":450,"b":440},{"i":224,"a":450,"b":392},{"i":225,"a":423,"b":384},{"i":226,"a":415,"b":363},{"i":227,"a":459,"b":391},{"i":228,"a":459,"b":384},{"i":229,"a":406,"b":364},{"i":230,"a":407,"b":376},{"i":231,"a":420,"b":384},{"i":232,"a":436,"b":415},{"i":233,"a":429,"b":417},{"i":234,"a":445,"b":424},{"i":235,"a":445,"b":418},{"i":236,"a":442,"b":422},{"i":237,"a":439,"b":420},{"i":238,"a":440,"b":429},{"i":239,"a":436,"b":397},{"i":240,"a":432,"b":404},{"i":241,"a":443,"b":426},{"i":242,"a":456,"b":425},{"i":243,"a":462,"b":446},{"i":244,"a":479,"b":445},{"i":245,"a":473,"b":425},{"i":246,"a":538,"b":429},{"i":247,"a":485,"b":412},{"i":248,"a":534,"b":464},{"i":249,"a":533,"b":504},{"i":250,"a":528,"b":490},{"i":251,"a":515,"b":457},{"i":252,"a":544,"b":460},{"i":257,"a":544,"b":537},{"i":258,"a":544,"b":533},{"i":261,"a":544,"b":533},{"i":262,"a":544,"b":537},{"i":265,"a":544,"b":543},{"i":266,"a":544,"b":540},{"i":267,"a":544,"b":541},{"i":268,"a":544,"b":532},{"i":269,"a":541,"b":491},{"i":270,"a":492,"b":441},{"i":271,"a":474,"b":422},{"i":272,"a":482,"b":439},{"i":273,"a":457,"b":446},{"i":275,"a":612,"b":545},{"i":276,"a":638,"b":545},{"i":277,"a":643,"b":590},{"i":278,"a":679,"b":641},{"i":289,"a":633,"b":630},{"i":295,"a":653,"b":582},{"i":296,"a":649,"b":590},{"i":297,"a":610,"b":565},{"i":298,"a":584,"b":535},{"i":299,"a":579,"b":505},
{"i":300,"a":551,"b":472},{"i":301,"a":557,"b":480},{"i":302,"a":581,"b":500},{"i":303,"a":598,"b":563},{"i":304,"a":606,"b":576},{"i":305,"a":701,"b":440},{"i":306,"a":725,"b":653},{"i":307,"a":726,"b":697},{"i":308,"a":711,"b":692},{"i":309,"a":713,"b":701},{"i":313,"a":758,"b":720},{"i":318,"a":805,"b":720},{"i":319,"a":841,"b":819},{"i":326,"a":885,"b":870},{"i":328,"a":872,"b":871},{"i":329,"a":886,"b":867},{"i":330,"a":892,"b":860},{"i":331,"a":877,"b":849},{"i":332,"a":879,"b":866},{"i":333,"a":885,"b":866},{"i":334,"a":898,"b":879},{"i":335,"a":888,"b":848},{"i":336,"a":860,"b":839},{"i":337,"a":860,"b":836},{"i":338,"a":855,"b":833},{"i":339,"a":848,"b":833},{"i":340,"a":843,"b":824},{"i":341,"a":865,"b":824},{"i":342,"a":903,"b":858},{"i":343,"a":948,"b":892},{"i":344,"a":953,"b":903},{"i":345,"a":930,"b":859},{"i":346,"a":937,"b":851},{"i":347,"a":909,"b":832},{"i":348,"a":868,"b":823},{"i":349,"a":854,"b":734},{"i":350,"a":788,"b":748},{"i":351,"a":782,"b":760},{"i":352,"a":777,"b":749},{"i":353,"a":777,"b":743},{"i":354,"a":782,"b":747},{"i":355,"a":830,"b":767},{"i":356,"a":803,"b":785},{"i":357,"a":804,"b":779},{"i":358,"a":799,"b":784},{"i":359,"a":810,"b":776},{"i":360,"a":804,"b":769},{"i":361,"a":810,"b":762},{"i":362,"a":816,"b":801},{"i":363,"a":818,"b":806},{"i":364,"a":826,"b":789},{"i":365,"a":859,"b":782},{"i":366,"a":871,"b":838},{"i":367,"a":875,"b":836},{"i":368,"a":904,"b":868},{"i":369,"a":907,"b":872},{"i":370,"a":892,"b":845},{"i":371,"a":882,"b":810},{"i":372,"a":873,"b":816},{"i":373,"a":878,"b":826},{"i":374,"a":865,"b":813},{"i":375,"a":817,"b":791},{"i":376,"a":804,"b":786},{"i":377,"a":819,"b":793},{"i":378,"a":825,"b":790},{"i":379,"a":815,"b":798},{"i":380,"a":820,"b":801},{"i":381,"a":828,"b":806},{"i":382,"a":823,"b":811},{"i":383,"a":838,"b":814},{"i":384,"a":829,"b":797},{"i":385,"a":831,"b":805},{"i":386,"a":827,"b":805},{"i":387,"a":853,"b":821},{"i":388,"a":849,"b":811},{"i":389,"a":841,"b":808},{"i":390,"a":858,"b":815},{"i":391,"a":864,"b":819},{"i":392,"a":868,"b":838},{"i":393,"a":889,"b":847},{"i":394,"a":894,"b":860},{"i":395,"a":891,"b":844},{"i":396,"a":871,"b":772},{"i":397,"a":826,"b":758},{"i":398,"a":780,"b":741},{"i":399,"a":800,"b":757},{"i":400,"a":804,"b":771},{"i":401,"a":789,"b":772},{"i":402,"a":795,"b":776},{"i":403,"a":791,"b":772},{"i":404,"a":792,"b":772},{"i":405,"a":803,"b":777},{"i":406,"a":806,"b":769},{"i":407,"a":803,"b":773},{"i":408,"a":810,"b":773},{"i":409,"a":819,"b":790},{"i":410,"a":825,"b":803},{"i":411,"a":821,"b":803},{"i":412,"a":827,"b":802},{"i":413,"a":841,"b":799},{"i":414,"a":843,"b":801},{"i":415,"a":833,"b":697},{"i":416,"a":762,"b":720},{"i":417,"a":769,"b":744},{"i":418,"a":789,"b":741},{"i":419,"a":880,"b":765},{"i":420,"a":918,"b":867},{"i":421,"a":892,"b":676},{"i":422,"a":719,"b":661},{"i":423,"a":700,"b":671},{"i":424,"a":700,"b":673},{"i":425,"a":700,"b":675},{"i":426,"a":695,"b":675},{"i":427,"a":687,"b":672},{"i":428,"a":680,"b":666},{"i":429,"a":688,"b":675},{"i":430,"a":685,"b":677},{"i":431,"a":685,"b":658},{"i":432,"a":687,"b":658},{"i":433,"a":679,"b":660},{"i":434,"a":679,"b":662},{"i":435,"a":680,"b":666},{"i":436,"a":683,"b":667},{"i":437,"a":689,"b":652},{"i":438,"a":727,"b":674},{"i":439,"a":727,"b":651},{"i":440,"a":701,"b":644},{"i":441,"a":716,"b":660},{"i":442,"a":755,"b":700},{"i":443,"a":757,"b":664},{"i":444,"a":719,"b":659},{"i":445,"a":733,"b":668},{"i":446,"a":713,"b":667},{"i":447,"a":697,"b":673},{"i":448,"a":690,"b":658},{"i":449,"a":685,"b":656},
{"i":450,"a":678,"b":655},{"i":451,"a":675,"b":654},{"i":452,"a":675,"b":661},{"i":453,"a":673,"b":658},{"i":454,"a":669,"b":659},{"i":455,"a":665,"b":632},{"i":456,"a":644,"b":628},{"i":457,"a":638,"b":613},{"i":458,"a":632,"b":607},{"i":459,"a":636,"b":611},{"i":460,"a":640,"b":623},{"i":461,"a":650,"b":620},{"i":462,"a":651,"b":609},{"i":463,"a":632,"b":565},{"i":464,"a":586,"b":555},{"i":465,"a":586,"b":553},{"i":466,"a":569,"b":543},{"i":467,"a":570,"b":543},{"i":488,"a":360,"b":355},{"i":489,"a":370,"b":353},{"i":490,"a":380,"b":356},{"i":491,"a":404,"b":380},{"i":492,"a":411,"b":369},{"i":493,"a":398,"b":321},{"i":494,"a":360,"b":309},{"i":495,"a":341,"b":309},{"i":496,"a":326,"b":297},{"i":497,"a":340,"b":308},{"i":498,"a":315,"b":288},{"i":499,"a":299,"b":288},{"i":500,"a":301,"b":292},{"i":501,"a":302,"b":292},{"i":502,"a":299,"b":289},{"i":503,"a":300,"b":277},{"i":504,"a":306,"b":277},{"i":505,"a":305,"b":277},{"i":506,"a":308,"b":292},{"i":507,"a":306,"b":291},{"i":508,"a":315,"b":296},{"i":509,"a":319,"b":279},{"i":510,"a":311,"b":254},{"i":511,"a":304,"b":260},{"i":512,"a":277,"b":238},{"i":513,"a":263,"b":216},{"i":514,"a":260,"b":222},{"i":515,"a":251,"b":216},{"i":516,"a":232,"b":196},{"i":517,"a":239,"b":191},{"i":518,"a":249,"b":221},{"i":519,"a":239,"b":214},{"i":520,"a":228,"b":208},{"i":521,"a":246,"b":220},{"i":522,"a":241,"b":222},{"i":523,"a":236,"b":219},{"i":524,"a":240,"b":229},{"i":525,"a":241,"b":225},{"i":526,"a":239,"b":228},{"i":527,"a":231,"b":204},{"i":528,"a":236,"b":200},{"i":529,"a":252,"b":230},{"i":530,"a":253,"b":223},{"i":531,"a":234,"b":220},{"i":532,"a":237,"b":213},{"i":533,"a":223,"b":183},{"i":534,"a":211,"b":177},{"i":535,"a":225,"b":189},{"i":536,"a":218,"b":191},{"i":537,"a":219,"b":187},{"i":538,"a":223,"b":191},{"i":539,"a":345,"b":204},{"i":540,"a":333,"b":253},{"i":541,"a":312,"b":266},{"i":542,"a":315,"b":280},{"i":543,"a":340,"b":285},{"i":544,"a":361,"b":323},{"i":545,"a":337,"b":301},{"i":546,"a":317,"b":299},{"i":547,"a":317,"b":301},{"i":548,"a":314,"b":298},{"i":549,"a":318,"b":302},{"i":550,"a":317,"b":306},{"i":551,"a":326,"b":298},{"i":552,"a":312,"b":298},{"i":553,"a":315,"b":287},{"i":554,"a":327,"b":304},{"i":555,"a":330,"b":304},{"i":556,"a":328,"b":306},{"i":557,"a":324,"b":288},{"i":558,"a":320,"b":279},{"i":559,"a":339,"b":296},{"i":560,"a":336,"b":311},{"i":561,"a":317,"b":284},{"i":562,"a":309,"b":277},{"i":563,"a":313,"b":258},{"i":564,"a":304,"b":245},{"i":565,"a":288,"b":245},{"i":566,"a":293,"b":257},{"i":567,"a":317,"b":284},{"i":568,"a":318,"b":286},{"i":569,"a":302,"b":269},{"i":570,"a":296,"b":270},{"i":571,"a":291,"b":268},{"i":572,"a":280,"b":267},{"i":573,"a":295,"b":272},{"i":574,"a":303,"b":279},{"i":575,"a":295,"b":279},{"i":576,"a":311,"b":286},{"i":577,"a":317,"b":303},{"i":578,"a":314,"b":300},{"i":579,"a":312,"b":300},{"i":580,"a":306,"b":292},{"i":581,"a":302,"b":276},{"i":582,"a":302,"b":270},{"i":583,"a":319,"b":285},{"i":584,"a":344,"b":309},{"i":585,"a":351,"b":331},{"i":586,"a":396,"b":337},{"i":587,"a":418,"b":382},{"i":588,"a":435,"b":399},{"i":589,"a":521,"b":402},{"i":590,"a":541,"b":496},{"i":591,"a":544,"b":519},{"i":592,"a":541,"b":528},{"i":593,"a":539,"b":507},{"i":594,"a":533,"b":513},{"i":595,"a":530,"b":516},{"i":596,"a":526,"b":515},{"i":597,"a":542,"b":505},{"i":598,"a":521,"b":506},{"i":599,"a":528,"b":510},
{"i":600,"a":540,"b":515},{"i":601,"a":538,"b":522},{"i":602,"a":523,"b":498},{"i":603,"a":515,"b":498},{"i":604,"a":514,"b":485},{"i":605,"a":510,"b":469},{"i":606,"a":510,"b":455},{"i":607,"a":502,"b":460},{"i":608,"a":492,"b":452},{"i":609,"a":486,"b":455},{"i":610,"a":473,"b":412},{"i":611,"a":453,"b":414},{"i":612,"a":488,"b":431},{"i":613,"a":501,"b":433},{"i":614,"a":496,"b":441},{"i":615,"a":463,"b":437},{"i":616,"a":451,"b":439},{"i":617,"a":454,"b":440},{"i":618,"a":459,"b":441},{"i":619,"a":458,"b":442},{"i":620,"a":461,"b":439},{"i":621,"a":457,"b":447},{"i":622,"a":463,"b":449},{"i":623,"a":452,"b":431},{"i":624,"a":449,"b":420},{"i":625,"a":441,"b":418},{"i":626,"a":432,"b":409},{"i":627,"a":424,"b":411},{"i":628,"a":435,"b":417},{"i":629,"a":426,"b":384},{"i":630,"a":439,"b":384},{"i":631,"a":456,"b":420},{"i":632,"a":452,"b":400},{"i":633,"a":443,"b":401},{"i":634,"a":431,"b":389},{"i":635,"a":424,"b":312},{"i":636,"a":326,"b":275},{"i":637,"a":302,"b":209},{"i":638,"a":226,"b":192},{"i":639,"a":212,"b":187},{"i":640,"a":200,"b":170},{"i":641,"a":210,"b":175},{"i":642,"a":205,"b":170},{"i":643,"a":200,"b":165},{"i":644,"a":195,"b":160},{"i":645,"a":205,"b":165},{"i":646,"a":200,"b":170},{"i":647,"a":205,"b":175},{"i":648,"a":210,"b":180},{"i":649,"a":224,"b":193},{"i":650,"a":242,"b":218},{"i":651,"a":227,"b":211},{"i":652,"a":225,"b":204},{"i":653,"a":244,"b":204},{"i":654,"a":268,"b":216},{"i":655,"a":254,"b":224},{"i":656,"a":248,"b":214},{"i":657,"a":227,"b":201},{"i":658,"a":244,"b":177},{"i":659,"a":255,"b":208},{"i":660,"a":236,"b":187},{"i":661,"a":229,"b":179},{"i":662,"a":200,"b":131},{"i":663,"a":167,"b":132},{"i":664,"a":169,"b":146},{"i":665,"a":319,"b":152},{"i":666,"a":215,"b":189},{"i":667,"a":210,"b":181},{"i":668,"a":220,"b":191},{"i":669,"a":215,"b":190},{"i":670,"a":213,"b":165},{"i":671,"a":170,"b":93},{"i":672,"a":130,"b":93},{"i":673,"a":108,"b":57},{"i":674,"a":69,"b":23},{"i":675,"a":71,"b":55},{"i":676,"a":82,"b":39},{"i":677,"a":81,"b":35},{"i":678,"a":95,"b":44},{"i":679,"a":145,"b":79},{"i":680,"a":147,"b":79},{"i":681,"a":142,"b":113},{"i":682,"a":170,"b":124},{"i":683,"a":171,"b":133},{"i":684,"a":164,"b":123},{"i":685,"a":156,"b":84},{"i":686,"a":145,"b":73},{"i":687,"a":130,"b":96},{"i":688,"a":111,"b":67},{"i":689,"a":74,"b":50},{"i":690,"a":79,"b":56},{"i":691,"a":72,"b":58},{"i":692,"a":72,"b":59},{"i":693,"a":77,"b":65},{"i":694,"a":73,"b":59},{"i":695,"a":93,"b":64},{"i":696,"a":100,"b":68},{"i":697,"a":84,"b":62},{"i":698,"a":107,"b":73},{"i":699,"a":108,"b":94},{"i":700,"a":114,"b":85},{"i":701,"a":108,"b":70},{"i":702,"a":104,"b":69},{"i":703,"a":96,"b":42},{"i":704,"a":68,"b":47},{"i":705,"a":92,"b":42},{"i":706,"a":82,"b":29},{"i":707,"a":60,"b":21},{"i":708,"a":99,"b":16},{"i":709,"a":92,"b":44},{"i":710,"a":119,"b":59},{"i":711,"a":172,"b":113},{"i":712,"a":169,"b":128},{"i":713,"a":145,"b":124},{"i":714,"a":163,"b":138},{"i":715,"a":173,"b":152},{"i":716,"a":152,"b":128},{"i":717,"a":157,"b":128},{"i":718,"a":144,"b":127},{"i":719,"a":166,"b":136},{"i":720,"a":224,"b":149},{"i":721,"a":224,"b":202},{"i":722,"a":246,"b":212},{"i":723,"a":234,"b":216},{"i":724,"a":242,"b":216},{"i":725,"a":232,"b":185},{"i":726,"a":255,"b":178},{"i":727,"a":278,"b":233},{"i":728,"a":280,"b":237},{"i":729,"a":262,"b":212},{"i":730,"a":262,"b":222},{"i":731,"a":284,"b":216},{"i":732,"a":322,"b":262},{"i":733,"a":315,"b":245},{"i":734,"a":310,"b":267},{"i":735,"a":310,"b":272},{"i":736,"a":323,"b":301},{"i":737,"a":346,"b":320},{"i":738,"a":347,"b":323},{"i":739,"a":340,"b":315},{"i":740,"a":333,"b":323},{"i":741,"a":341,"b":328},{"i":742,"a":334,"b":321},{"i":743,"a":336,"b":302},{"i":744,"a":309,"b":291},{"i":745,"a":317,"b":285},{"i":746,"a":317,"b":298},{"i":747,"a":313,"b":296},{"i":748,"a":330,"b":309},{"i":749,"a":334,"b":302},
{"i":750,"a":327,"b":280},{"i":751,"a":314,"b":258},{"i":752,"a":299,"b":261},{"i":753,"a":306,"b":272},{"i":754,"a":317,"b":287},{"i":755,"a":365,"b":288},{"i":756,"a":362,"b":288},{"i":757,"a":404,"b":316},{"i":758,"a":389,"b":318},{"i":759,"a":337,"b":318},{"i":760,"a":338,"b":322},{"i":761,"a":367,"b":318},{"i":762,"a":376,"b":352},{"i":763,"a":381,"b":361},{"i":764,"a":374,"b":366},{"i":765,"a":379,"b":367},{"i":766,"a":374,"b":354},{"i":767,"a":375,"b":308},{"i":768,"a":317,"b":289},{"i":769,"a":305,"b":282},{"i":770,"a":306,"b":286},{"i":771,"a":310,"b":299},{"i":772,"a":328,"b":307},{"i":773,"a":327,"b":278},{"i":774,"a":324,"b":279},{"i":775,"a":382,"b":282},{"i":776,"a":367,"b":337},{"i":777,"a":348,"b":318},{"i":778,"a":336,"b":287},{"i":779,"a":314,"b":254},{"i":780,"a":345,"b":269},{"i":781,"a":367,"b":329},{"i":782,"a":384,"b":331},{"i":783,"a":397,"b":368},{"i":784,"a":389,"b":358},{"i":785,"a":439,"b":382},{"i":786,"a":432,"b":404},{"i":787,"a":440,"b":419},{"i":788,"a":433,"b":417},{"i":789,"a":434,"b":423},{"i":790,"a":432,"b":423},{"i":791,"a":437,"b":408},{"i":792,"a":414,"b":394},{"i":793,"a":407,"b":394},{"i":794,"a":404,"b":388},{"i":795,"a":413,"b":391},{"i":796,"a":421,"b":395},{"i":797,"a":416,"b":370},{"i":798,"a":440,"b":370},{"i":799,"a":422,"b":378},{"i":800,"a":422,"b":378},{"i":801,"a":455,"b":423},{"i":802,"a":457,"b":412},{"i":803,"a":445,"b":352},{"i":804,"a":384,"b":339},{"i":805,"a":413,"b":330},{"i":806,"a":398,"b":356},{"i":807,"a":398,"b":355},{"i":808,"a":365,"b":342},{"i":809,"a":369,"b":348},{"i":810,"a":365,"b":345},{"i":811,"a":364,"b":350},{"i":812,"a":379,"b":352},{"i":813,"a":372,"b":360},{"i":814,"a":375,"b":359},{"i":815,"a":364,"b":315},{"i":816,"a":351,"b":320},{"i":817,"a":375,"b":343},{"i":818,"a":383,"b":354},{"i":819,"a":398,"b":379},{"i":820,"a":401,"b":388},{"i":821,"a":422,"b":379},{"i":822,"a":428,"b":373},{"i":823,"a":395,"b":347},{"i":824,"a":379,"b":345},{"i":825,"a":398,"b":367},{"i":826,"a":408,"b":373},{"i":827,"a":403,"b":360},{"i":828,"a":437,"b":288},{"i":829,"a":545,"b":317},{"i":830,"a":527,"b":475},{"i":831,"a":544,"b":496},{"i":832,"a":542,"b":511},{"i":833,"a":523,"b":507},{"i":834,"a":531,"b":512},{"i":835,"a":529,"b":514},{"i":836,"a":522,"b":507},{"i":837,"a":540,"b":517},{"i":838,"a":534,"b":524},{"i":839,"a":544,"b":519},{"i":844,"a":544,"b":533},{"i":845,"a":544,"b":512},{"i":846,"a":544,"b":515},{"i":847,"a":544,"b":513},{"i":848,"a":544,"b":515},{"i":849,"a":544,"b":517},{"i":850,"a":542,"b":502},{"i":851,"a":544,"b":475},{"i":852,"a":523,"b":470},{"i":853,"a":539,"b":477},{"i":854,"a":544,"b":503},{"i":855,"a":528,"b":510},{"i":856,"a":533,"b":520},{"i":857,"a":544,"b":525},{"i":858,"a":544,"b":530},{"i":859,"a":538,"b":522},{"i":860,"a":534,"b":519},{"i":861,"a":533,"b":521},{"i":862,"a":532,"b":519},{"i":863,"a":549,"b":520},{"i":864,"a":562,"b":528}
]},
"layer":[
{"data":{"name":"price"},"mark":{"type":"rule","strokeWidth":1,"color":"#00ff00"},"encoding":{"x":{"field":"i","type":"quantitative","scale":{"domain":[-0.75,864.25],"nice":false,"zero":false},"axis":null},"y":{"field":"a","type":"quantitative","scale":{"domain":[-5,1000],"nice":false,"zero":false},"axis":null},"y2":{"field":"b"}}},
{"data":{"name":"hist"},"transform":[{"filter":"datum.h>=0"}],"mark":{"type":"rule","strokeWidth":1},"encoding":{"x":{"field":"i","type":"quantitative","scale":{"domain":[-0.75,864.25],"nice":false,"zero":false},"axis":null},"y":{"field":"h","type":"quantitative","scale":{"domain":[-550,455],"nice":false,"zero":false},"axis":null},"y2":{"datum":-1},"color":{"field":"c","type":"nominal","legend":null,"scale":{"domain":["b","p"],"range":["#0000ff","#afeeee"]}}}},
{"data":{"name":"hist"},"transform":[{"filter":"datum.h<0"}],"mark":{"type":"rule","strokeWidth":1},"encoding":{"x":{"field":"i","type":"quantitative","scale":{"domain":[-0.75,864.25],"nice":false,"zero":false},"axis":null},"y":{"field":"h","type":"quantitative","scale":{"domain":[-550,455],"nice":false,"zero":false},"axis":null},"y2":{"datum":0},"color":{"field":"c","type":"nominal","legend":null,"scale":{"domain":["b","p"],"range":["#0000ff","#afeeee"]}}}}
],
"resolve":{"scale":{"y":"independent"}}}
